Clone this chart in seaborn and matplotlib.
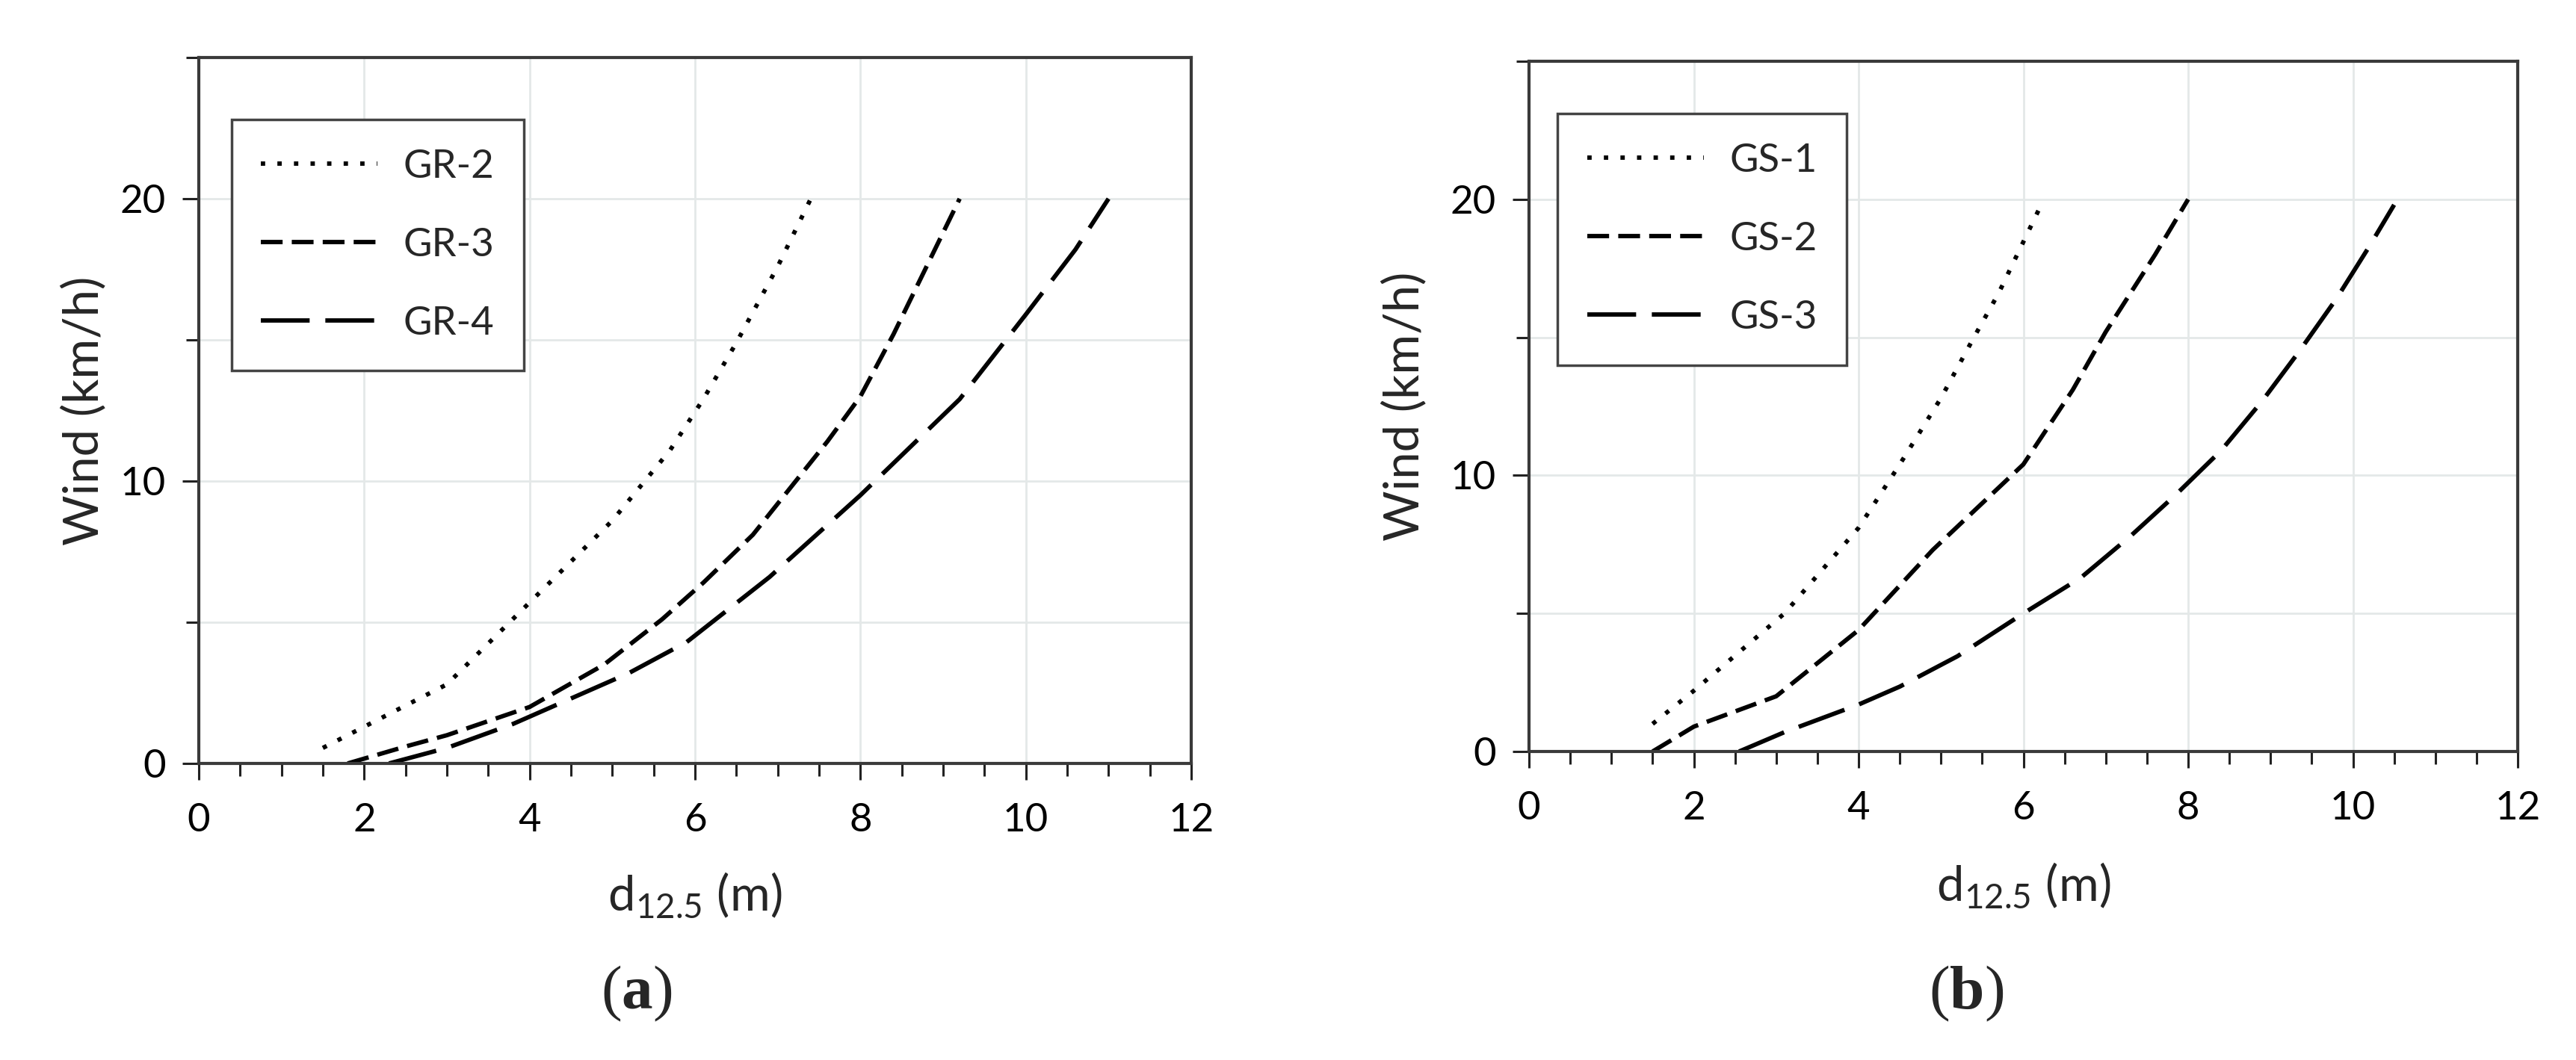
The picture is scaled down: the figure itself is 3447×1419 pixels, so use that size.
import matplotlib
matplotlib.use("Agg")
import matplotlib.pyplot as plt
import seaborn as sns
from matplotlib.ticker import MultipleLocator

# panel (a)
gr2_x = [1.5, 2.0, 3.0, 4.0, 5.0, 5.7, 6.1, 6.5, 7.0, 7.4]
gr2_y = [0.55, 1.3, 2.8, 5.7, 8.6, 11.1, 12.9, 14.9, 17.6, 20.0]
gr3_x = [1.8, 2.5, 3.0, 3.5, 4.0, 4.9, 5.6, 6.1, 6.7, 7.0, 7.6, 8.0, 8.4, 8.8, 9.2]
gr3_y = [0.0, 0.6, 1.0, 1.5, 2.0, 3.5, 5.1, 6.4, 8.1, 9.2, 11.4, 13.0, 15.2, 17.6, 20.0]
gr4_x = [2.3, 3.0, 3.8, 4.5, 5.2, 5.9, 6.9, 8.0, 9.2, 10.0, 10.6, 11.0]
gr4_y = [0.0, 0.55, 1.4, 2.3, 3.2, 4.3, 6.6, 9.5, 12.9, 15.9, 18.2, 20.0]

# panel (b)
gs1_x = [1.5, 2.0, 3.1, 4.0, 4.5, 5.0, 5.4, 5.7, 6.2]
gs1_y = [1.0, 2.2, 5.0, 8.1, 10.4, 12.8, 15.0, 16.6, 19.7]
gs2_x = [1.5, 2.0, 3.0, 4.0, 4.9, 6.0, 6.6, 7.0, 7.6, 8.0]
gs2_y = [0.0, 0.9, 2.0, 4.4, 7.3, 10.4, 13.1, 15.2, 18.0, 20.0]
gs3_x = [2.55, 3.1, 4.0, 4.5, 5.2, 6.0, 6.7, 7.3, 7.85, 8.4, 8.9, 9.35, 9.8, 10.2, 10.5]
gs3_y = [0.0, 0.7, 1.7, 2.35, 3.45, 5.0, 6.3, 7.8, 9.3, 10.9, 12.7, 14.5, 16.4, 18.3, 19.8]

labels_a = ["GR-2", "GR-3", "GR-4"]
labels_b = ["GS-1", "GS-2", "GS-3"]

sns.set_style("white")
plt.rcParams["font.family"] = ["Lato", "DejaVu Sans"]
plt.rcParams["mathtext.fontset"] = "custom"
plt.rcParams["mathtext.bf"] = "Liberation Serif:bold"

styles = [(0, (1, 2.8)), (0, (5, 2.1)), (0, (11.2, 3.6))]
spine_col = "#3a3a3a"

fig = plt.figure(figsize=(34.48, 14.19), dpi=100)
ax_a = fig.add_axes([0.07715, 0.27977, 0.38515, 0.66596])
ax_b = fig.add_axes([0.59339, 0.29105, 0.38370, 0.65116])


def draw(ax, xs, ys, labels, leg_anchor, xpad, ypad):
    for x, y, lab, ls in zip(xs, ys, labels, styles):
        sns.lineplot(x=x, y=y, ax=ax, color="black", linewidth=4.2,
                     linestyle=ls, label=lab, dash_capstyle="butt")
    ax.set_xlim(0, 12)
    ax.set_ylim(0, 25)
    ax.xaxis.set_major_locator(MultipleLocator(2))
    ax.xaxis.set_minor_locator(MultipleLocator(0.5))
    ax.yaxis.set_major_locator(MultipleLocator(10))
    ax.yaxis.set_minor_locator(MultipleLocator(5))
    ax.grid(True, which="major", axis="x", color="#e4e8e8", linewidth=2)
    ax.grid(True, which="both", axis="y", color="#e4e8e8", linewidth=2)
    ax.set_axisbelow(True)
    for s in ax.spines.values():
        s.set_color(spine_col)
        s.set_linewidth(3)
    ax.tick_params(which="major", direction="out", length=16, width=2.2,
                   color="#222222", labelsize=38, labelcolor="black")
    ax.tick_params(which="minor", direction="out", length=12, width=2.2,
                   color="#222222")
    ax.tick_params(axis="x", which="both", bottom=True, pad=22)
    ax.tick_params(axis="y", which="both", left=True, pad=16)
    ax.set_xlabel(r"d$_{\mathregular{12.5}}$ (m)", fontsize=47, labelpad=xpad)
    ax.set_ylabel("Wind (km/h)", fontsize=47, labelpad=ypad)
    leg = ax.legend(loc="upper left", bbox_to_anchor=leg_anchor,
                    borderaxespad=0, fontsize=38, frameon=True, fancybox=False,
                    framealpha=1, edgecolor="#444444", handlelength=2.95,
                    handletextpad=0.66, labelspacing=1.1, borderpad=0.75)
    leg.get_frame().set_linewidth(2.5)


draw(ax_a, [gr2_x, gr3_x, gr4_x], [gr2_y, gr3_y, gr4_y], labels_a,
     (0.033, 0.912), 32, 13)
draw(ax_b, [gs1_x, gs2_x, gs3_x], [gs1_y, gs2_y, gs3_y], labels_b,
     (0.029, 0.924), 34, 22)

fig.text(0.247, 0.0627, r"($\mathbf{a}$)", fontsize=60, family="Liberation Serif",
         ha="center", va="center")
fig.text(0.763, 0.0627, r"($\mathbf{b}$)", fontsize=60, family="Liberation Serif",
         ha="center", va="center")

fig.savefig("out.png", dpi=100, facecolor="white")
